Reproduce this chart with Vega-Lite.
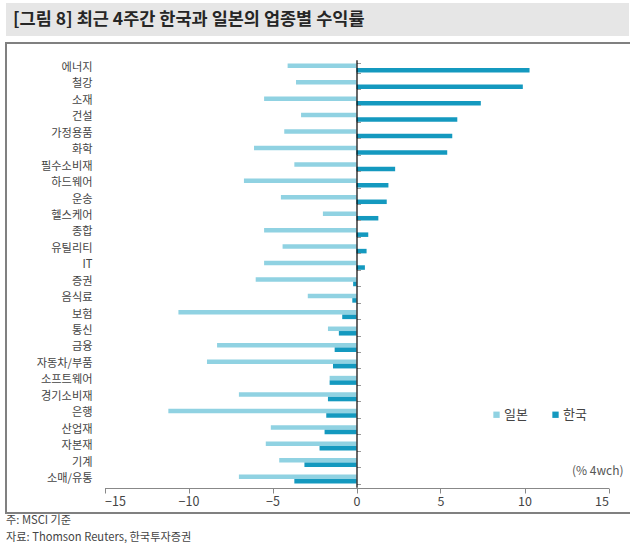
{
  "$schema": "https://vega.github.io/schema/vega-lite/v6.json",
  "padding": {"left": 5, "top": 3, "right": 0, "bottom": 0},
  "background": "white",
  "config": {
    "font": "Noto Sans CJK KR",
    "concat": {"spacing": 6},
    "view": {"stroke": null}
  },
  "datasets": {
    "returns": [
      {"c": "에너지", "s": "일본", "v": -4.1}, {"c": "에너지", "s": "한국", "v": 10.3},
      {"c": "철강", "s": "일본", "v": -3.6}, {"c": "철강", "s": "한국", "v": 9.9},
      {"c": "소재", "s": "일본", "v": -5.5}, {"c": "소재", "s": "한국", "v": 7.4},
      {"c": "건설", "s": "일본", "v": -3.3}, {"c": "건설", "s": "한국", "v": 6.0},
      {"c": "가정용품", "s": "일본", "v": -4.3}, {"c": "가정용품", "s": "한국", "v": 5.7},
      {"c": "화학", "s": "일본", "v": -6.1}, {"c": "화학", "s": "한국", "v": 5.4},
      {"c": "필수소비재", "s": "일본", "v": -3.7}, {"c": "필수소비재", "s": "한국", "v": 2.3},
      {"c": "하드웨어", "s": "일본", "v": -6.7}, {"c": "하드웨어", "s": "한국", "v": 1.9},
      {"c": "운송", "s": "일본", "v": -4.5}, {"c": "운송", "s": "한국", "v": 1.8},
      {"c": "헬스케어", "s": "일본", "v": -2.0}, {"c": "헬스케어", "s": "한국", "v": 1.3},
      {"c": "종합", "s": "일본", "v": -5.5}, {"c": "종합", "s": "한국", "v": 0.7},
      {"c": "유틸리티", "s": "일본", "v": -4.4}, {"c": "유틸리티", "s": "한국", "v": 0.6},
      {"c": "IT", "s": "일본", "v": -5.5}, {"c": "IT", "s": "한국", "v": 0.5},
      {"c": "증권", "s": "일본", "v": -6.0}, {"c": "증권", "s": "한국", "v": -0.2},
      {"c": "음식료", "s": "일본", "v": -2.9}, {"c": "음식료", "s": "한국", "v": -0.25},
      {"c": "보험", "s": "일본", "v": -10.6}, {"c": "보험", "s": "한국", "v": -0.85},
      {"c": "통신", "s": "일본", "v": -1.7}, {"c": "통신", "s": "한국", "v": -1.05},
      {"c": "금융", "s": "일본", "v": -8.3}, {"c": "금융", "s": "한국", "v": -1.3},
      {"c": "자동차/부품", "s": "일본", "v": -8.9}, {"c": "자동차/부품", "s": "한국", "v": -1.4},
      {"c": "소프트웨어", "s": "일본", "v": -1.6}, {"c": "소프트웨어", "s": "한국", "v": -1.6},
      {"c": "경기소비재", "s": "일본", "v": -7.0}, {"c": "경기소비재", "s": "한국", "v": -1.7},
      {"c": "은행", "s": "일본", "v": -11.2}, {"c": "은행", "s": "한국", "v": -1.8},
      {"c": "산업재", "s": "일본", "v": -5.1}, {"c": "산업재", "s": "한국", "v": -1.9},
      {"c": "자본재", "s": "일본", "v": -5.4}, {"c": "자본재", "s": "한국", "v": -2.2},
      {"c": "기계", "s": "일본", "v": -4.6}, {"c": "기계", "s": "한국", "v": -3.1},
      {"c": "소매/유통", "s": "일본", "v": -7.0}, {"c": "소매/유통", "s": "한국", "v": -3.7}
    ]
  },
  "vconcat": [
    {
      "width": 623,
      "height": 33,
      "view": {"fill": "#e6e6e6", "stroke": null},
      "data": {"values": [{"t": "[그림 8] 최근 4주간 한국과 일본의 업종별 수익률"}]},
      "mark": {"type": "text", "align": "left", "baseline": "middle", "dx": 7, "fontSize": 17.5, "fontWeight": "bold", "color": "#262626"},
      "encoding": {
        "x": {"datum": 0, "type": "quantitative", "scale": {"domain": [0, 1]}, "axis": null},
        "text": {"field": "t"}
      }
    },
    {
      "width": 625,
      "height": 470,
      "view": {"stroke": "#808080", "strokeWidth": 2},
      "title": {
        "text": ["주: MSCI 기준", "자료: Thomson Reuters, 한국투자증권"],
        "orient": "bottom",
        "anchor": "start",
        "fontSize": 11.2,
        "fontWeight": "normal",
        "color": "#444",
        "lineHeight": 16.5,
        "offset": 2
      },
      "data": {"name": "returns"},
      "encoding": {
        "x": {
          "field": "v",
          "type": "quantitative",
          "scale": {"domain": [-15, 15], "range": [98.5, 602.5], "nice": false, "zero": false},
          "axis": {
            "values": [-15, -10, -5, 0, 5, 10, 15],
            "offset": -25,
            "grid": false,
            "domainColor": "#888",
            "tickColor": "#888",
            "tickSize": 5,
            "labelFontSize": 12.5,
            "labelColor": "#444",
            "labelPadding": 2,
            "title": "(% 4wch)",
            "titleFontSize": 12,
            "titleFontWeight": "normal",
            "titleColor": "#555",
            "titleAlign": "right",
            "titleAnchor": "end",
            "titleBaseline": "middle",
            "titleX": 617,
            "titleY": -18
          }
        }
      },
      "layer": [
        {
          "mark": {"type": "bar"},
          "encoding": {
            "y": {
              "field": "c",
              "type": "nominal",
              "sort": null,
              "scale": {"range": [16.8, 444.2], "paddingInner": 0.45, "paddingOuter": 0.225},
              "axis": {
                "orient": "left",
                "offset": -88,
                "title": null,
                "domain": false,
                "ticks": false,
                "labelPadding": 2,
                "labelFontSize": 11.2,
                "labelColor": "#444"
              }
            },
            "yOffset": {"field": "s", "sort": ["일본", "한국"]},
            "color": {
              "field": "s",
              "type": "nominal",
              "scale": {"domain": ["일본", "한국"], "range": ["#90d2e2", "#1499bf"]},
              "legend": {
                "orient": "none",
                "legendX": 484,
                "legendY": 405,
                "direction": "horizontal",
                "title": null,
                "symbolType": "square",
                "symbolSize": 40,
                "symbolStrokeWidth": 0,
                "labelFontSize": 13,
                "labelColor": "#444",
                "labelOffset": 1,
                "columnPadding": 21
              }
            }
          }
        },
        {
          "mark": {"type": "tick", "opacity": 0},
          "encoding": {
            "y": {
              "field": "c",
              "type": "nominal",
              "sort": null,
              "scale": {"range": [16.8, 444.2], "paddingInner": 0.45, "paddingOuter": 0.225},
              "axis": {
                "orient": "right",
                "offset": -274.5,
                "title": null,
                "labels": false,
                "domain": true,
                "domainColor": "#000",
                "domainWidth": 1.2,
                "ticks": true,
                "tickBand": "extent",
                "tickColor": "#999",
                "tickSize": 4,
                "zindex": 1
              }
            }
          }
        }
      ],
      "resolve": {"axis": {"y": "independent"}}
    }
  ]
}
